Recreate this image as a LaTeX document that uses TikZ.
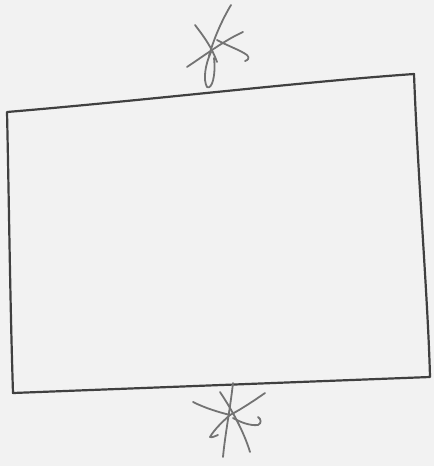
\documentclass[tikz,border=0pt]{standalone}
\begin{document}
\begin{tikzpicture}[x=1pt,y=-1pt,
  box/.style={draw=black!75,line width=2.2pt,line join=round,line cap=round},
  star/.style={draw=black!55,line width=1.8pt,line cap=round,line join=round}]
\useasboundingbox (0,0) rectangle (434,466);
\fill[black!5] (0,0) rectangle (434,466);
% box corners
\coordinate (tl) at (7,112);
\coordinate (tr) at (414,74);
\coordinate (br) at (430,377);
\coordinate (bl) at (13,393);
\draw[box] (tl) .. controls (150,100) and (300,82) .. (tr)
  .. controls (418,180) and (428,300) .. (br)
  -- (bl)
  .. controls (10,300) and (9,200) .. (tl);
% top asterisk
\coordinate (tc) at (214,48);
\draw[star] (231,5) .. controls (222,20) and (214,38) .. (209,56);
\draw[star] (195,25) .. controls (205,38) and (212,48) .. (217,62);
\draw[star] (187,67) .. controls (205,55) and (225,40) .. (243,32);
\draw[star] (217,40) .. controls (228,46) and (240,50) .. (247,55) .. controls (250,58) and (248,60) .. (245,61);
\draw[star] (211,52) .. controls (205,65) and (203,80) .. (207,87) .. controls (212,90) and (216,75) .. (214,58);
% bottom asterisk
\draw[star] (233,383) .. controls (230,410) and (225,435) .. (223,457);
\draw[star] (220,392) .. controls (232,410) and (244,432) .. (250,452);
\draw[star] (193,402) .. controls (205,408) and (218,412) .. (230,415);
\draw[star] (265,393) .. controls (255,400) and (240,410) .. (230,415);
\draw[star] (230,415) .. controls (222,422) and (214,430) .. (210,437) .. controls (212,438) and (215,436) .. (218,435);
\draw[star] (233,418) .. controls (240,422) and (250,426) .. (258,425) .. controls (262,423) and (261,419) .. (258,417);
\end{tikzpicture}
\end{document}
